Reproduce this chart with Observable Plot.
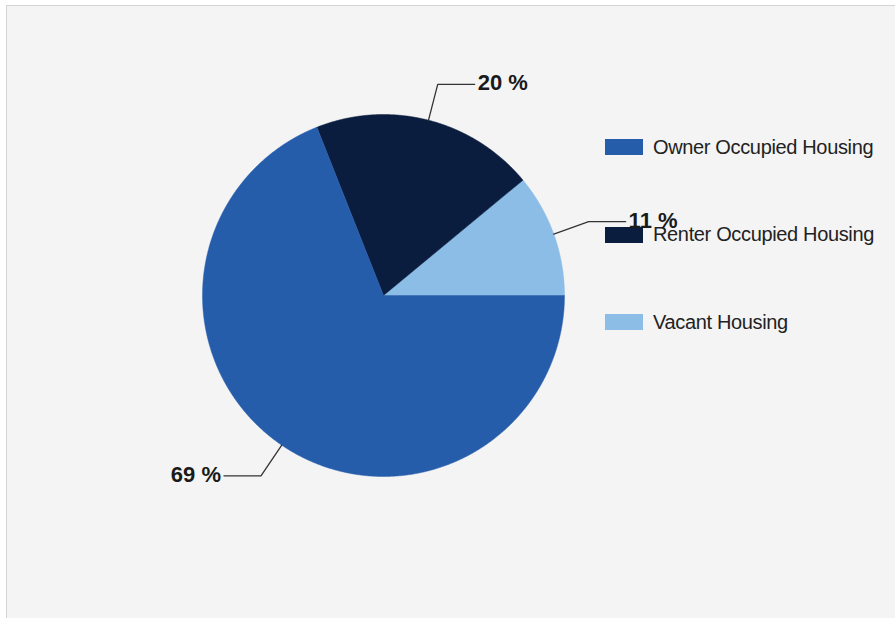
<!DOCTYPE html>
<html>
<head>
<meta charset="utf-8">
<script src="https://cdn.jsdelivr.net/npm/d3@7"></script>
<script src="https://cdn.jsdelivr.net/npm/@observablehq/plot@0.6"></script>
<style>
  html, body { margin: 0; padding: 0; background: #ffffff; }
  #panel {
    position: absolute; left: 6px; top: 5px; width: 888px; height: 612px;
    background: #f4f4f4; border-left: 1px solid #d4d4d4; border-top: 1px solid #d4d4d4;
    overflow: hidden; font-family: "Liberation Sans", Arial, sans-serif;
  }
  #legend { position: absolute; left: 598px; top: 133px; z-index: 0; }
  .item { display: flex; align-items: center; height: 16px; margin-bottom: 71.5px; }
  .sw { width: 38px; height: 16px; margin-right: 10px; }
  .lab { font-size: 20px; color: #222; letter-spacing: -0.35px; white-space: nowrap; }
  #chart { position: absolute; left: 0; top: 0; z-index: 1; }
</style>
</head>
<body>
<div id="panel">
  <div id="legend"></div>
  <div id="chart"></div>
</div>
<script>
// ---- data ----
const categories = ["Owner Occupied Housing", "Renter Occupied Housing", "Vacant Housing"];
const values = [69, 20, 11];
const labels = ["69 %", "20 %", "11 %"];
const colors = ["#265dab", "#0b1d3f", "#8bbde6"];

// ---- layout (pixels) ----
const W = 888, H = 612;
const CX = 376, CY = 289, R = 181;
const ELBOW = 218, ARM = 37, GAP = 3;

// slices drawn counter-clockwise from 3 o'clock: last category first
const order = [2, 1, 0];
const total = d3.sum(values);
let acc = 0;
const slices = order.map(i => {
  const a0 = acc / total * 2 * Math.PI;
  acc += values[i];
  const a1 = acc / total * 2 * Math.PI;
  return {cat: categories[i], label: labels[i], a0, a1, mid: (a0 + a1) / 2};
});

// wedge outlines in unit-radius data space
const wedgePts = [];
for (const s of slices) {
  wedgePts.push({cat: s.cat, x: 0, y: 0});
  const n = Math.max(2, Math.ceil((s.a1 - s.a0) / (Math.PI / 720)));
  for (let k = 0; k <= n; k++) {
    const a = s.a0 + (s.a1 - s.a0) * k / n;
    wedgePts.push({cat: s.cat, x: Math.cos(a), y: Math.sin(a)});
  }
  wedgePts.push({cat: s.cat, x: 0, y: 0});
}

// leader lines and labels
const leaderPts = [];
const labelRows = [];
for (const s of slices) {
  const c = Math.cos(s.mid), sn = Math.sin(s.mid);
  const side = c >= 0 ? 1 : -1;
  const ex = c * ELBOW / R, ey = sn * ELBOW / R;
  leaderPts.push({cat: s.cat, x: c, y: sn});
  leaderPts.push({cat: s.cat, x: ex, y: ey});
  leaderPts.push({cat: s.cat, x: ex + side * ARM / R, y: ey});
  labelRows.push({label: s.label, x: ex + side * (ARM + GAP) / R, y: ey, anchor: side > 0 ? "start" : "end"});
}

const textStyle = {fontSize: 22, fontWeight: "bold", fill: "#1a1a1a", fontFamily: "Liberation Sans, Arial, sans-serif", dy: -1};

const chart = Plot.plot({
  width: W, height: H, margin: 0,
  style: {background: "transparent"},
  x: {domain: [-CX / R, (W - CX) / R], range: [0, W], axis: null},
  y: {domain: [-(H - CY) / R, CY / R], range: [H, 0], axis: null},
  color: {domain: categories, range: colors},
  marks: [
    Plot.line(wedgePts, {x: "x", y: "y", z: "cat", fill: "cat", stroke: "cat", strokeWidth: 0.5, curve: "linear"}),
    Plot.line(leaderPts, {x: "x", y: "y", z: "cat", stroke: "#333333", strokeWidth: 1.3}),
    Plot.text(labelRows.filter(d => d.anchor === "start"), {x: "x", y: "y", text: "label", textAnchor: "start", ...textStyle}),
    Plot.text(labelRows.filter(d => d.anchor === "end"), {x: "x", y: "y", text: "label", textAnchor: "end", ...textStyle})
  ]
});
document.getElementById("chart").appendChild(chart);

// legend
const legend = d3.select("#legend");
categories.forEach((c, i) => {
  const it = legend.append("div").attr("class", "item");
  it.append("div").attr("class", "sw").style("background", colors[i]);
  it.append("div").attr("class", "lab").text(c);
});
</script>
</body>
</html>
